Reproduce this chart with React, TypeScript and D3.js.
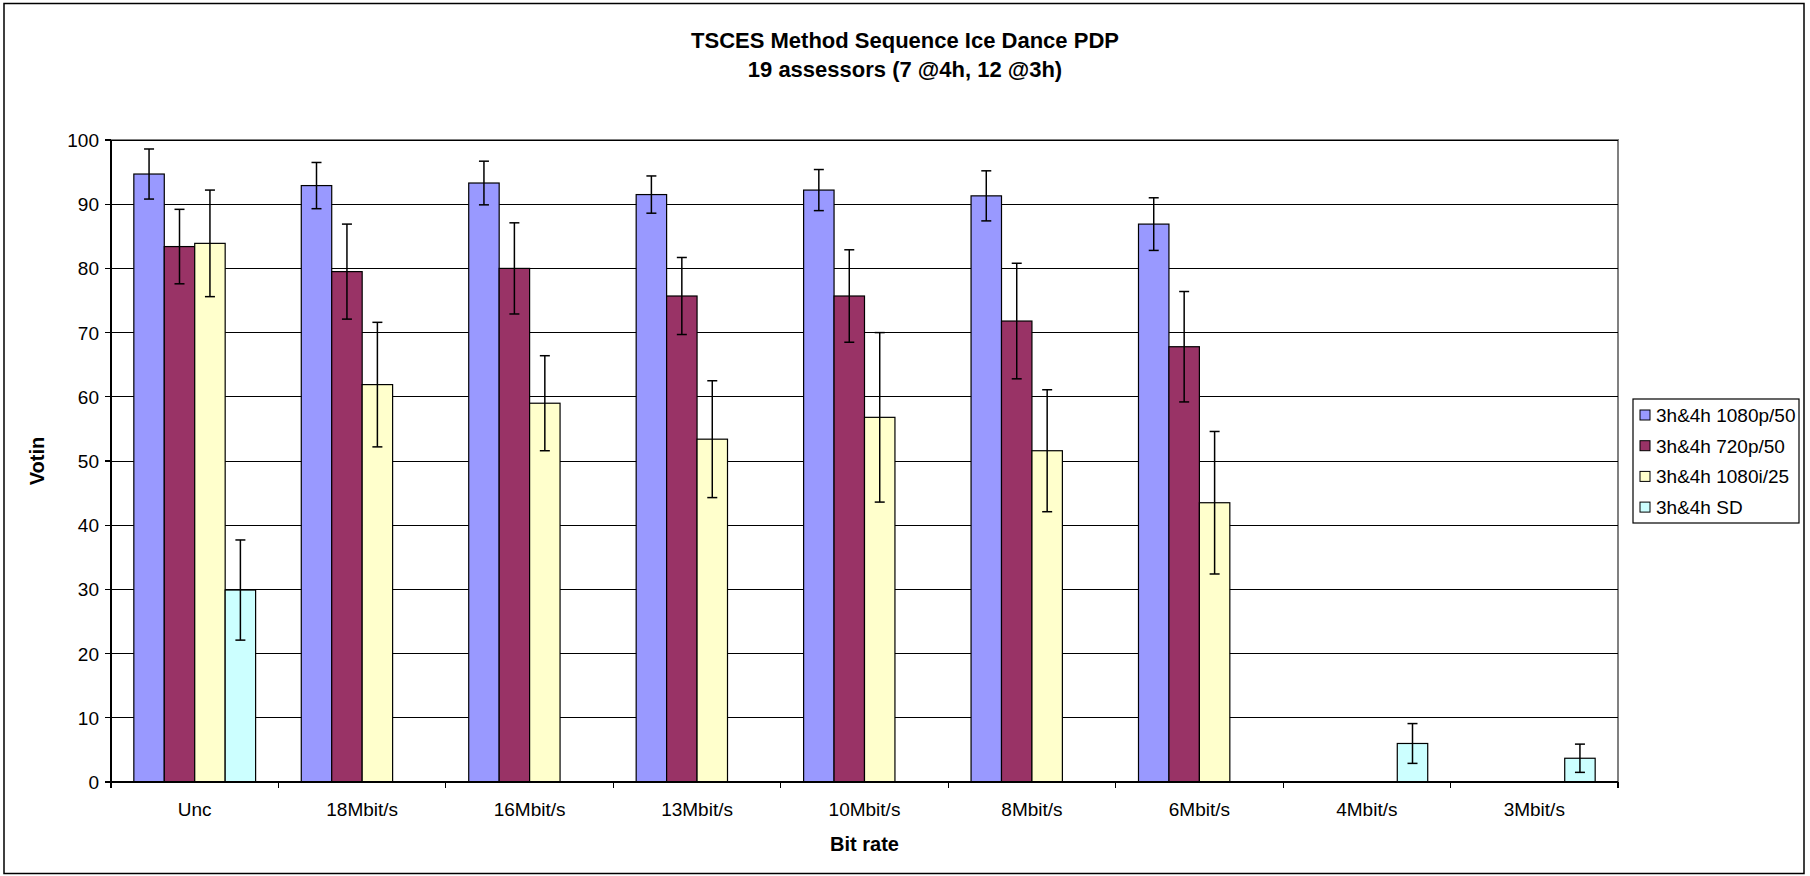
import React from "react";
import * as d3 from "d3";

const categories = ["Unc", "18Mbit/s", "16Mbit/s", "13Mbit/s", "10Mbit/s", "8Mbit/s", "6Mbit/s", "4Mbit/s", "3Mbit/s"];
const seriesNames = ["3h&4h 1080p/50", "3h&4h 720p/50", "3h&4h 1080i/25", "3h&4h SD"];
const seriesColors = ["#9999FF", "#993366", "#FFFFCC", "#CCFFFF"];

const p1080 = [94.7, 92.9, 93.3, 91.5, 92.2, 91.3, 86.9, null, null];
const p1080Err = [3.9, 3.6, 3.4, 2.9, 3.2, 3.9, 4.1, null, null];
const p720 = [83.4, 79.5, 80.0, 75.7, 75.7, 71.8, 67.8, null, null];
const p720Err = [5.8, 7.4, 7.1, 6.0, 7.2, 9.0, 8.6, null, null];
const i1080 = [83.9, 61.9, 59.0, 53.4, 56.8, 51.6, 43.5, null, null];
const i1080Err = [8.3, 9.7, 7.4, 9.1, 13.2, 9.5, 11.1, null, null];
const sd = [29.9, null, null, null, null, null, null, 6.0, 3.7];
const sdErr = [7.8, null, null, null, null, null, null, 3.1, 2.2];

const yTicks = [0, 10, 20, 30, 40, 50, 60, 70, 80, 90, 100];

const title1 = "TSCES Method Sequence Ice Dance PDP";
const title2 = "19 assessors (7 @4h, 12 @3h)";
const xTitle = "Bit rate";
const yTitle = "Votin";

const seriesValues = [p1080, p720, i1080, sd];
const seriesErrors = [p1080Err, p720Err, i1080Err, sdErr];

const W = 1810;
const H = 876;
const plot = { left: 111, right: 1618, top: 140, bottom: 782 };
const FONT = "'Liberation Sans', Arial, sans-serif";

export default function App() {
  const x0 = d3.scaleBand<string>().domain(categories).range([plot.left, plot.right]).padding(0);
  const x1 = d3
    .scaleBand<string>()
    .domain(seriesNames)
    .range([0, x0.bandwidth()])
    .paddingInner(0)
    .paddingOuter(0.75);
  const y = d3.scaleLinear().domain([0, 100]).range([plot.bottom, plot.top]);

  const bars: React.ReactNode[] = [];
  const errs: React.ReactNode[] = [];
  categories.forEach((c, ci) => {
    seriesNames.forEach((s, si) => {
      const v = seriesValues[si][ci];
      if (v == null) return;
      const bx = (x0(c) as number) + (x1(s) as number);
      const bw = x1.bandwidth();
      bars.push(
        <rect
          key={`b-${ci}-${si}`}
          x={bx}
          y={y(v)}
          width={bw}
          height={y(0) - y(v)}
          fill={seriesColors[si]}
          stroke="#000"
          strokeWidth={1.2}
        />
      );
      const e = seriesErrors[si][ci];
      if (e != null) {
        const cx = bx + bw / 2;
        const yt = y(v + e);
        const yb = y(v - e);
        errs.push(
          <g key={`e-${ci}-${si}`} stroke="#000" strokeWidth={1.5}>
            <line x1={cx} x2={cx} y1={yt} y2={yb} />
            <line x1={cx - 5} x2={cx + 5} y1={yt} y2={yt} />
            <line x1={cx - 5} x2={cx + 5} y1={yb} y2={yb} />
          </g>
        );
      }
    });
  });

  const legendX = 1633;
  const legendY = 399;
  const legendW = 166;
  const legendH = 124;
  const legendStep = 30.7;

  return (
    <svg
      width={W}
      height={H}
      style={{ position: "absolute", left: 0, top: 0, background: "#fff" }}
      fontFamily={FONT}
    >
      <rect x={0} y={0} width={W} height={H} fill="#fff" />
      <rect x={4} y={3.5} width={1800} height={870} fill="none" stroke="#000" strokeWidth={1.5} />

      <text x={905} y={48} textAnchor="middle" fontSize={22} fontWeight="bold">
        {title1}
      </text>
      <text x={905} y={77} textAnchor="middle" fontSize={22} fontWeight="bold">
        {title2}
      </text>

      {/* plot area border */}
      <rect
        x={plot.left}
        y={plot.top}
        width={plot.right - plot.left}
        height={plot.bottom - plot.top}
        fill="#fff"
        stroke="#808080"
        strokeWidth={1.5}
        shapeRendering="crispEdges"
      />
      {/* gridlines */}
      {yTicks.map((t) => (
        <line
          key={`g-${t}`}
          x1={plot.left}
          x2={plot.right}
          y1={y(t)}
          y2={y(t)}
          stroke="#000"
          strokeWidth={1}
          shapeRendering="crispEdges"
        />
      ))}

      {bars}
      {errs}

      {/* y axis */}
      <line x1={plot.left} x2={plot.left} y1={plot.top} y2={plot.bottom} stroke="#000" strokeWidth={1.5} shapeRendering="crispEdges" />
      {yTicks.map((t) => (
        <g key={`yt-${t}`}>
          <line x1={plot.left - 6} x2={plot.left} y1={y(t)} y2={y(t)} stroke="#000" strokeWidth={1.2} shapeRendering="crispEdges" />
          <text x={plot.left - 12} y={y(t) + 7} textAnchor="end" fontSize={19}>
            {t}
          </text>
        </g>
      ))}

      {/* x axis */}
      <line x1={plot.left} x2={plot.right} y1={plot.bottom} y2={plot.bottom} stroke="#000" strokeWidth={1.5} shapeRendering="crispEdges" />
      {categories.map((c, i) => (
        <line
          key={`xt-${i}`}
          x1={x0(c) as number}
          x2={x0(c) as number}
          y1={plot.bottom}
          y2={plot.bottom + 6}
          stroke="#000"
          strokeWidth={1.2}
          shapeRendering="crispEdges"
        />
      ))}
      <line x1={plot.right} x2={plot.right} y1={plot.bottom} y2={plot.bottom + 6} stroke="#000" strokeWidth={1.2} shapeRendering="crispEdges" />
      {categories.map((c) => (
        <text key={`xl-${c}`} x={(x0(c) as number) + x0.bandwidth() / 2} y={816} textAnchor="middle" fontSize={19}>
          {c}
        </text>
      ))}

      <text x={(plot.left + plot.right) / 2} y={851} textAnchor="middle" fontSize={20} fontWeight="bold">
        {xTitle}
      </text>
      <text
        transform={`translate(44, ${(plot.top + plot.bottom) / 2}) rotate(-90)`}
        textAnchor="middle"
        fontSize={20}
        fontWeight="bold"
      >
        {yTitle}
      </text>

      {/* legend */}
      <rect x={legendX} y={legendY} width={legendW} height={legendH} fill="#fff" stroke="#000" strokeWidth={1.2} />
      {seriesNames.map((s, i) => {
        const cy = legendY + 16 + i * legendStep;
        return (
          <g key={`lg-${i}`}>
            <rect x={legendX + 7} y={cy - 5} width={10} height={10} fill={seriesColors[i]} stroke="#000" strokeWidth={1} />
            <text x={legendX + 23} y={cy + 7} fontSize={19}>
              {s}
            </text>
          </g>
        );
      })}
    </svg>
  );
}
